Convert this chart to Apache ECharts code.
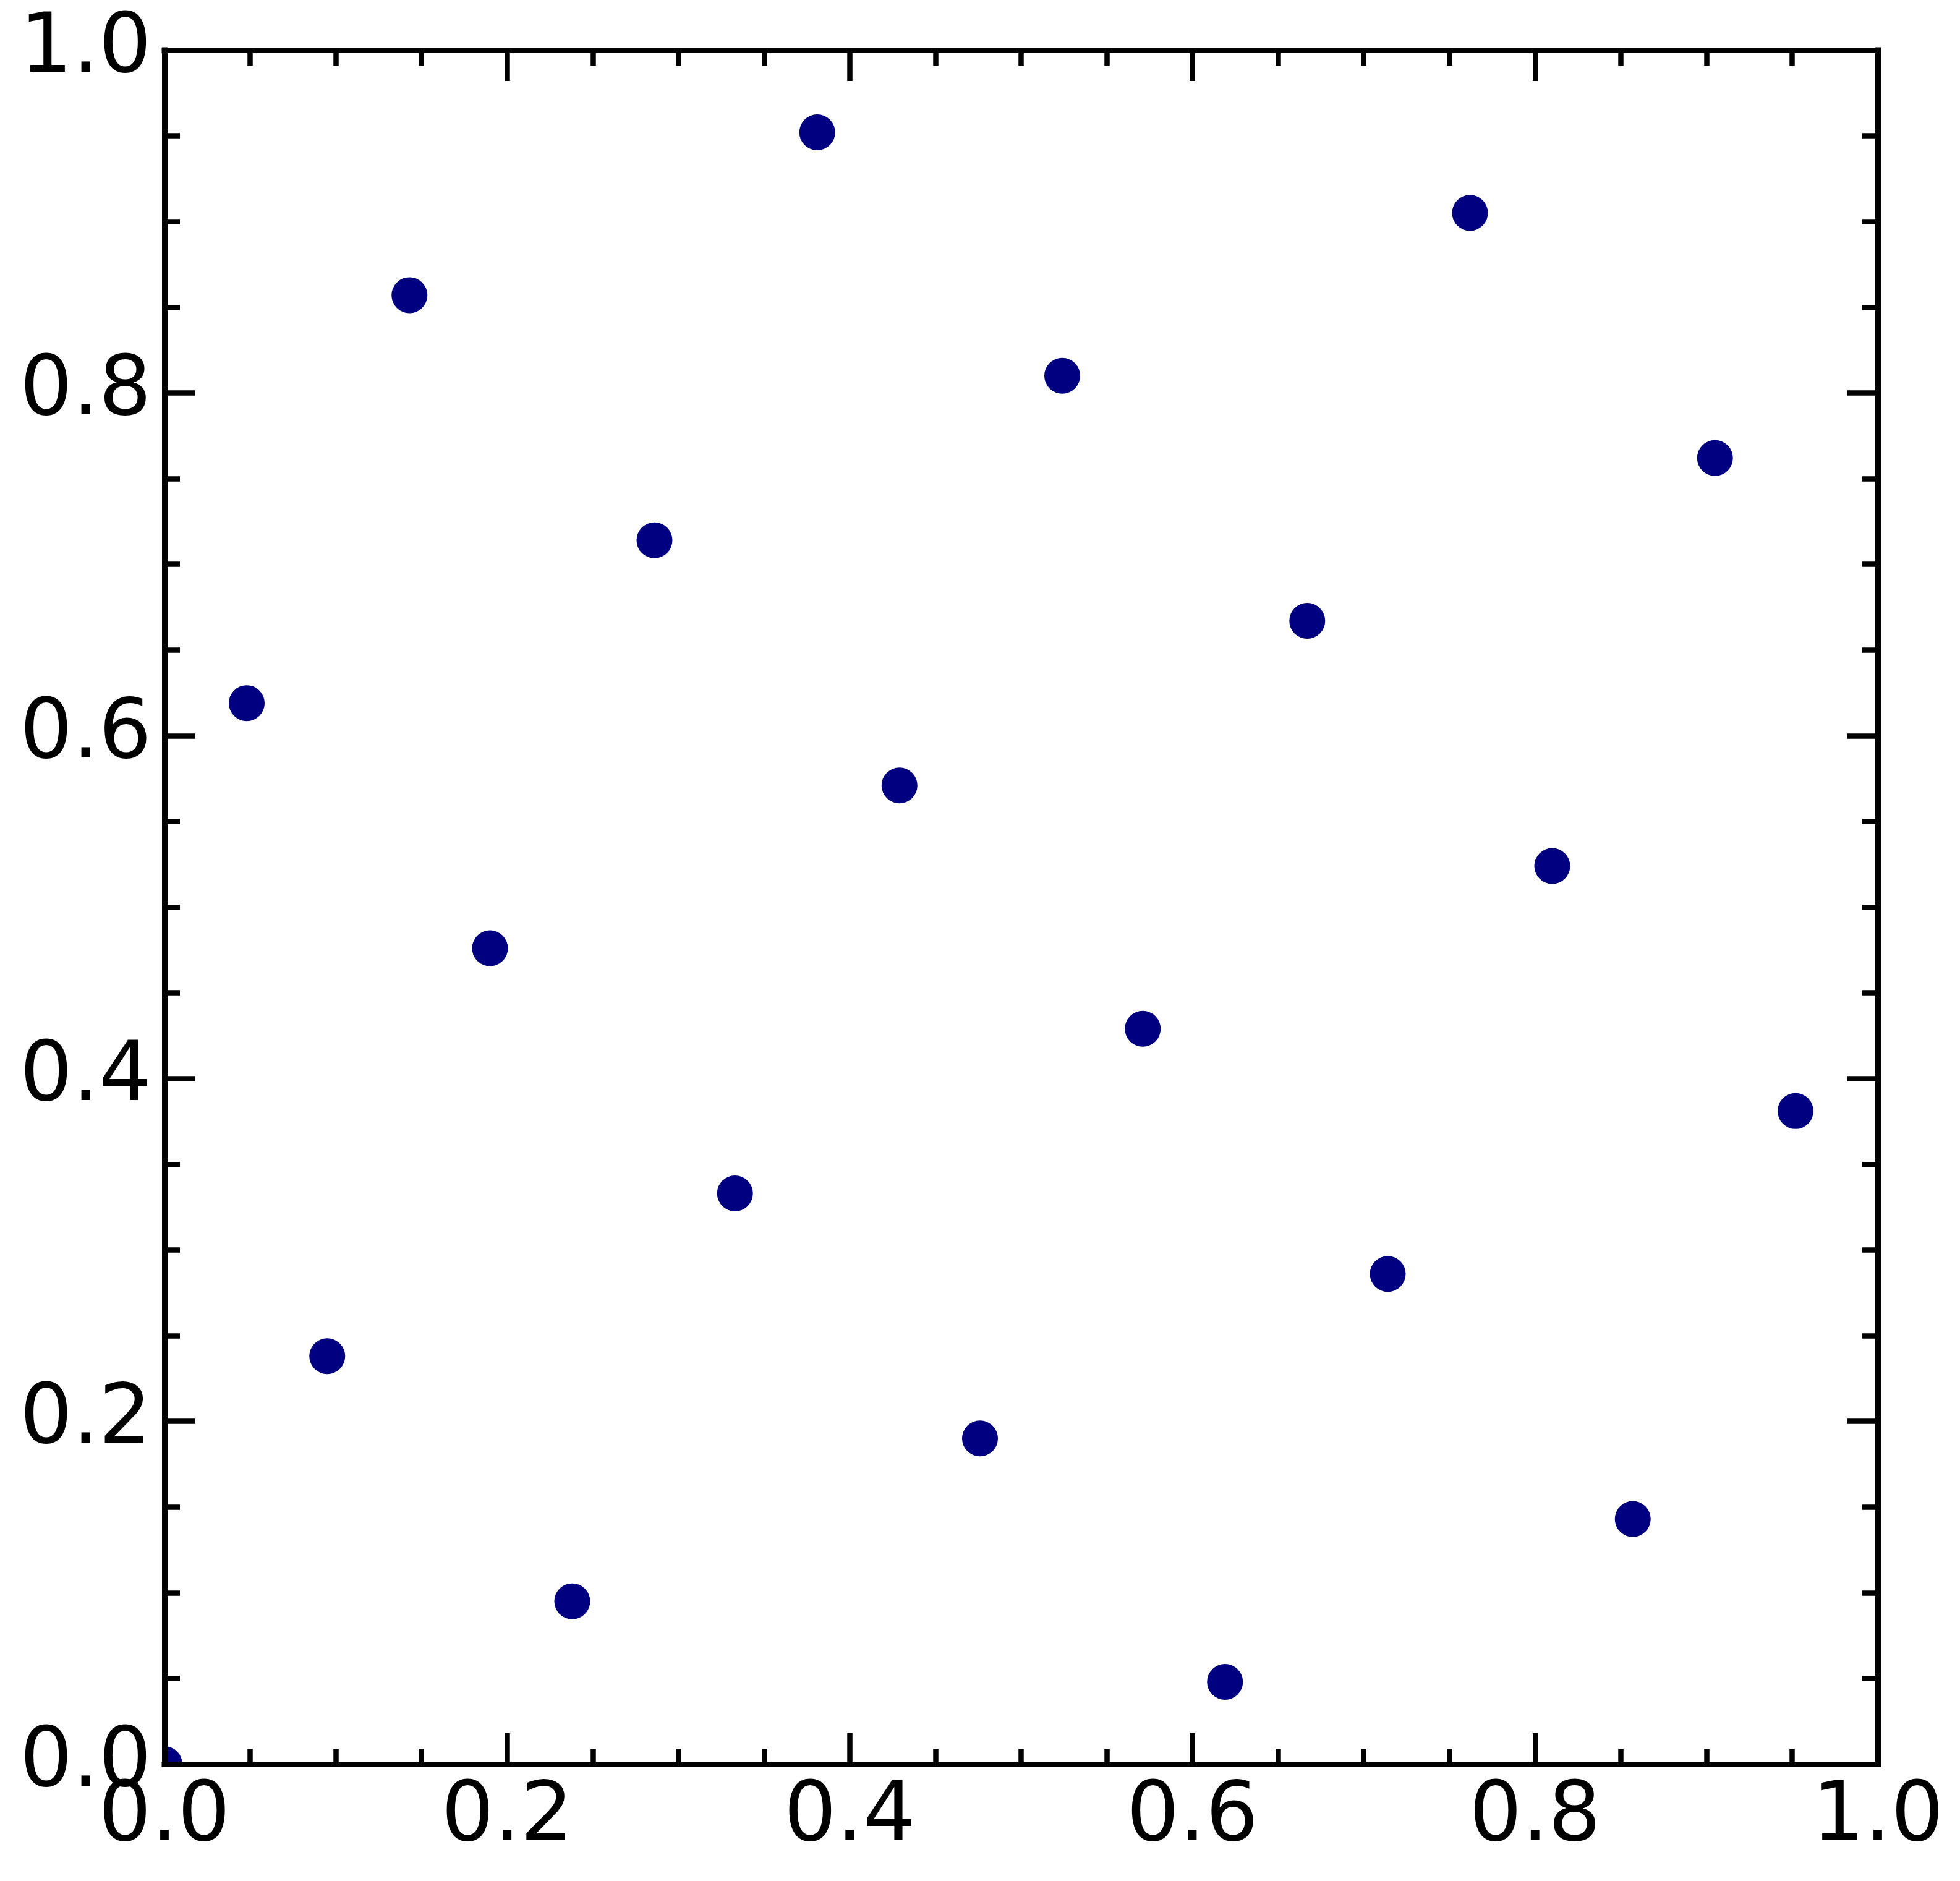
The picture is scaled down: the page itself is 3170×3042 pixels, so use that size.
<!DOCTYPE html>
<html>
<head>
<meta charset="utf-8">
<script src="https://cdn.jsdelivr.net/npm/echarts@6/dist/echarts.min.js"></script>
<style>
  html, body { margin: 0; padding: 0; background: #fff; }
  #chart { width: 3170px; height: 3042px; }
</style>
</head>
<body>
<div id="chart"></div>
<script>
// point positions
const xs = [0, 0.048, 0.095, 0.143, 0.190, 0.238, 0.286, 0.333, 0.381, 0.429, 0.476,
  0.524, 0.571, 0.619, 0.667, 0.714, 0.762, 0.810, 0.857, 0.905, 0.952]
const ys = [0, 0.619, 0.238, 0.857, 0.476, 0.095, 0.714, 0.333, 0.952, 0.571, 0.190,
  0.810, 0.429, 0.048, 0.667, 0.286, 0.905, 0.524, 0.143, 0.762, 0.381]

const axisMin = 0
const axisMax = 1
const tickStep = 0.2

const black = '#000'
const fontSize = 134

function makeAxis (position, showLabel) {
  return {
    type: 'value',
    position,
    min: axisMin,
    max: axisMax,
    interval: tickStep,
    axisLine: {
      show: true,
      onZero: false,
      lineStyle: { color: black, width: 9, cap: 'square' }
    },
    axisTick: {
      show: true,
      inside: true,
      length: 50,
      lineStyle: { color: black, width: 8.5 }
    },
    minorTick: {
      show: true,
      splitNumber: 4,
      length: 25,
      lineStyle: { color: black, width: 8.5 }
    },
    splitLine: { show: false },
    minorSplitLine: { show: false },
    axisLabel: {
      show: showLabel,
      color: black,
      fontFamily: 'DejaVu Sans',
      fontSize,
      margin: 21,
      formatter: v => v.toFixed(1)
    }
  }
}

let myChart = echarts.init(document.getElementById('chart'), null, { renderer: 'canvas' })
myChart.setOption({
  backgroundColor: '#fff',
  animation: false,
  grid: {
    left: 266,
    right: 133,
    top: 81,
    bottom: 189
  },
  xAxis: [makeAxis('bottom', true), makeAxis('top', false)],
  yAxis: [makeAxis('left', true), makeAxis('right', false)],
  series: [{
    type: 'custom',
    xAxisIndex: 0,
    yAxisIndex: 0,
    clip: true,
    z: -1,
    data: xs.map((x, i) => [x, ys[i]]),
    encode: { x: 0, y: 1 },
    renderItem: (params, api) => {
      let p = api.coord([api.value(0), api.value(1)])
      return {
        type: 'circle',
        shape: { cx: p[0], cy: p[1], r: 29 },
        style: { fill: '#000080' }
      }
    }
  }]
})
</script>
</body>
</html>
